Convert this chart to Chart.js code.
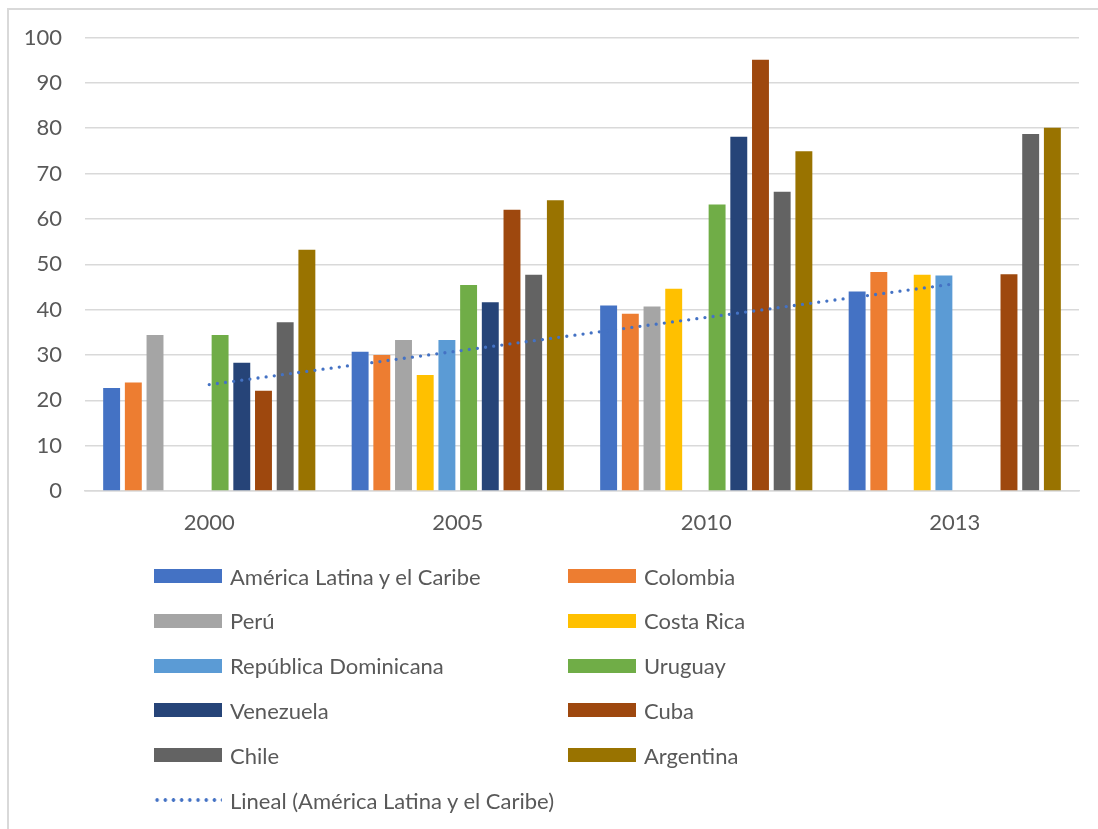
<!DOCTYPE html>
<html>
<head>
<meta charset="utf-8">
<script src="https://cdn.jsdelivr.net/npm/chart.js@4.4.1/dist/chart.umd.min.js"></script>
<style>
  html, body { margin: 0; padding: 0; background: #fff; overflow: hidden; }
  body { width: 1098px; height: 829px; position: relative; font-family: Lato, "Open Sans", sans-serif; }
  #frame { position: absolute; left: 7px; top: 8px; width: 1200px; height: 900px;
           border-left: 2px solid #d9d9d9; border-top: 2px solid #d9d9d9; box-sizing: border-box; }
  #c { position: absolute; left: 0; top: 0; }
  #legend { position: absolute; left: 0; top: 0; width: 1098px; height: 829px; pointer-events: none; }
  .li { position: absolute; height: 30px; display: flex; align-items: center; color: #595959; font-size: 22px; white-space: nowrap; }
  .sw { width: 68px; height: 14px; margin-right: 8px; flex: none; }
  .dots { width: 68px; height: 6px; margin-right: 8px; flex: none;
          background-image: radial-gradient(circle, #4472C4 1.5px, rgba(68,114,196,0) 2.1px);
          background-size: 8.2px 6px; background-repeat: repeat-x; background-position: -1px 0; }
</style>
</head>
<body>
<div id="frame"></div>
<canvas id="c" width="1098" height="829"></canvas>
<div id="legend"></div>
<script>
// ---- Data ----
const categories = ["2000", "2005", "2010", "2013"];
const seriesNames = ["América Latina y el Caribe", "Colombia", "Perú", "Costa Rica", "República Dominicana",
                     "Uruguay", "Venezuela", "Cuba", "Chile", "Argentina"];
const americaLatina = [22.7, 30.7, 40.9, 44.0];
const colombia      = [23.9, 30.0, 39.1, 48.3];
const peru          = [34.4, 33.3, 40.7, null];
const costaRica     = [null, 25.6, 44.6, 47.7];
const repDominicana = [null, 33.3, null, 47.5];
const uruguay       = [34.4, 45.4, 63.2, null];
const venezuela     = [28.3, 41.6, 78.1, null];
const cuba          = [22.1, 62.0, 95.1, 47.8];
const chile         = [37.2, 47.7, 66.0, 78.7];
const argentina     = [53.2, 64.1, 74.9, 80.1];
const yTicks = [0, 10, 20, 30, 40, 50, 60, 70, 80, 90, 100];
const trendName = "Lineal (América Latina y el Caribe)";

const seriesValues = [americaLatina, colombia, peru, costaRica, repDominicana, uruguay, venezuela, cuba, chile, argentina];
const colors = ["#4472C4", "#ED7D31", "#A5A5A5", "#FFC000", "#5B9BD5", "#70AD47", "#264478", "#9E480E", "#636363", "#997300"];

// Linear trendline (least squares) of the first series, as Excel does
function linearTrend(vals) {
  const n = vals.length;
  const xs = vals.map((_, i) => i + 1);
  const mx = xs.reduce((a, b) => a + b, 0) / n;
  const my = vals.reduce((a, b) => a + b, 0) / n;
  let sxy = 0, sxx = 0;
  for (let i = 0; i < n; i++) { sxy += (xs[i] - mx) * (vals[i] - my); sxx += (xs[i] - mx) ** 2; }
  const b = sxy / sxx, a = my - b * mx;
  return xs.map(x => a + b * x);
}
const trend = linearTrend(americaLatina);

const txt = "#595959";
const fontFam = "Lato, 'Open Sans', sans-serif";

const datasets = seriesNames.map((name, i) => ({
  type: 'bar',
  label: name,
  data: seriesValues[i],
  backgroundColor: colors[i],
  borderWidth: 0,
  categoryPercentage: 0.873,
  barPercentage: 0.78,
  order: 1
}));
datasets.push({
  type: 'line',
  label: trendName,
  data: trend,
  borderColor: "#4472C4",
  borderWidth: 3.3,
  borderDash: [0, 8.2],
  borderCapStyle: 'round',
  pointRadius: 0,
  fill: false,
  tension: 0,
  order: 0
});

new Chart(document.getElementById('c'), {
  data: { labels: categories, datasets },
  options: {
    responsive: false,
    animation: false,
    devicePixelRatio: 1,
    layout: { padding: { left: 0, top: 37.5, right: 19, bottom: 288 } },
    plugins: { legend: { display: false }, tooltip: { enabled: false } },
    scales: {
      x: {
        grid: { display: false, drawTicks: false },
        border: { display: true, color: "#d9d9d9", width: 1.5 },
        ticks: { color: txt, font: { family: fontFam, size: 22 }, padding: 19 },
        afterFit: s => { s.height = 50; }
      },
      y: {
        min: 0, max: 100,
        afterBuildTicks: s => { s.ticks = yTicks.map(v => ({ value: v })); },
        grid: { color: "#d9d9d9", lineWidth: 1.5, drawTicks: false },
        border: { display: false },
        ticks: { color: txt, font: { family: fontFam, size: 22 }, padding: 23 },
        afterFit: s => { s.width = 85; }
      }
    }
  }
});

// ---- HTML legend (two columns, row-major) ----
const legend = document.getElementById('legend');
const items = seriesNames.map((n, i) => ({ name: n, color: colors[i] }));
items.push({ name: trendName, dots: true });
const colX = [154, 568];
const rowY0 = 576, rowDY = 44.8;
items.forEach((it, k) => {
  const col = k % 2, row = Math.floor(k / 2);
  const d = document.createElement('div');
  d.className = 'li';
  d.style.left = colX[col] + 'px';
  d.style.top = (rowY0 + row * rowDY - 15) + 'px';
  const sw = document.createElement('span');
  if (it.dots) sw.className = 'dots'; else { sw.className = 'sw'; sw.style.background = it.color; }
  const t = document.createElement('span');
  t.textContent = it.name;
  d.appendChild(sw); d.appendChild(t);
  legend.appendChild(d);
});
</script>
</body>
</html>
